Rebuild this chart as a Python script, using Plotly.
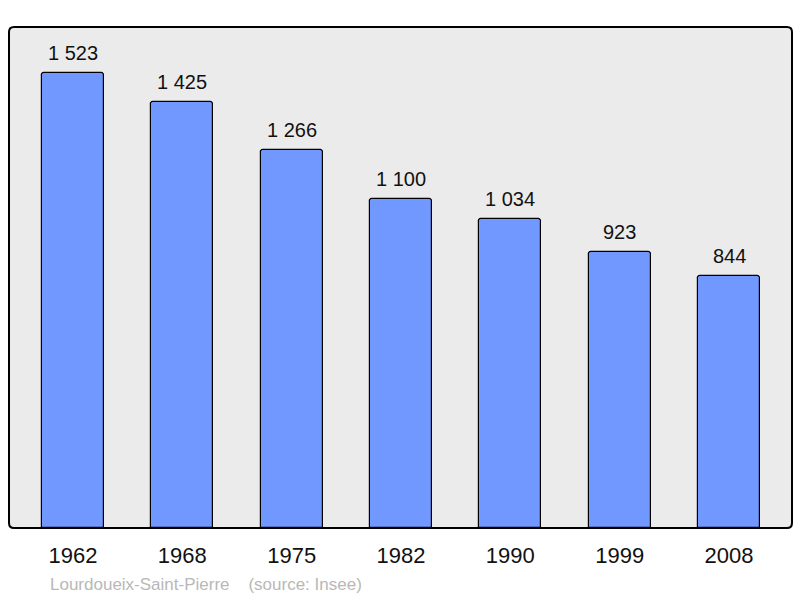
import plotly.graph_objects as go

years = ["1962", "1968", "1975", "1982", "1990", "1999", "2008"]
population = [1523, 1425, 1266, 1100, 1034, 923, 844]
value_labels = ["1 523", "1 425", "1 266", "1 100", "1 034", "923", "844"]
footer = "Lourdoueix-Saint-Pierre\u00a0\u00a0\u00a0\u00a0(source: Insee)"

W, H = 800, 598
L, R, T, B = 9, 8, 27, 70

fig = go.Figure()
fig.add_trace(go.Bar(
    x=list(range(len(years))), y=population,
    width=0.567,
    marker=dict(color="#7098ff", line=dict(color="#000000", width=1.2), cornerradius=3),
    hoverinfo="skip",
))

for i, (v, lab) in enumerate(zip(population, value_labels)):
    fig.add_annotation(x=i, y=v, text=lab, showarrow=False, yanchor="bottom",
                       yshift=7, font=dict(size=20, color="#111111"))

fig.add_annotation(xref="paper", yref="paper", x=(48 - L) / (W - L - R), y=(528 - 584) / (598 - T - B),
                   xanchor="left", yanchor="middle", text=footer, showarrow=False,
                   font=dict(size=17, color="#b8b8b8"))

# rounded frame
pw = W - L - R
ph = H - T - B
rx = 5 / pw
ry = 5 / ph
path = (f"M {rx},0 L {1-rx},0 Q 1,0 1,{ry} L 1,{1-ry} Q 1,1 {1-rx},1 "
        f"L {rx},1 Q 0,1 0,{1-ry} L 0,{ry} Q 0,0 {rx},0 Z")
fig.add_shape(type="path", path=path, xref="paper", yref="paper",
              line=dict(color="#000000", width=2), fillcolor="rgba(0,0,0,0)", layer="above")

fig.update_layout(
    width=W, height=H,
    margin=dict(l=L, r=R, t=T, b=B),
    paper_bgcolor="#ffffff", plot_bgcolor="#ebebeb",
    font=dict(family="Liberation Sans, Arial, sans-serif", color="#111111"),
    showlegend=False,
    bargap=0,
)
fig.update_xaxes(range=[-0.585, 6.576], tickmode="array", tickvals=list(range(len(years))),
                 ticktext=years, tickfont=dict(size=22), showgrid=False, zeroline=False,
                 showline=False, ticks="", ticklabelstandoff=12, fixedrange=True)
fig.update_yaxes(range=[0, 1677], showgrid=False, zeroline=False, showticklabels=False,
                 showline=False, fixedrange=True)

fig.write_html("out.html", config={"displayModeBar": False},
               post_script="document.body.style.margin='0';document.body.style.overflow='hidden';")
